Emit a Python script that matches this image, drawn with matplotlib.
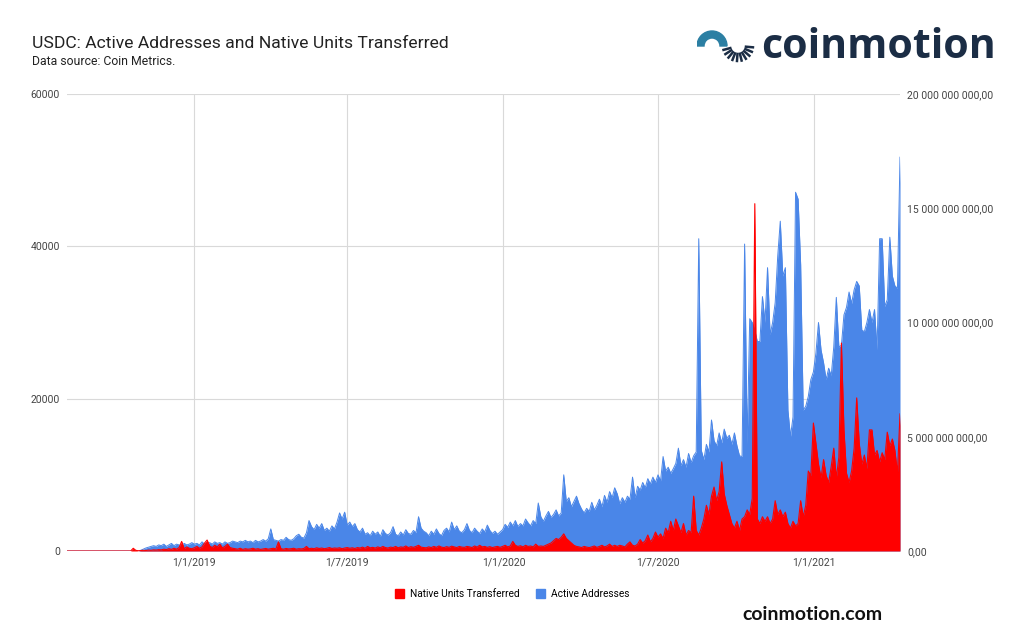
import matplotlib
matplotlib.use('Agg')
import matplotlib.pyplot as plt
from matplotlib.patches import Patch, Wedge
from matplotlib.ticker import FuncFormatter
import numpy as np
import pandas as pd

plt.rcParams['font.family'] = ['Roboto', 'DejaVu Sans']

# USDC daily data sampled every 3 days, starting 2018-08-05 (Coin Metrics)
start_date = '2018-08-05'

active_addresses = [
    0, 0, 0, 0, 0, 0, 0, 0, 0, 0,
    0, 0, 0, 0, 0, 0, 0, 0, 0, 0,
    0, 0, 0, 0, 0, 0, 0, 0, 0,
    100, 250, 400, 500, 600, 700,
    600, 800, 700, 900, 600, 800, 1000, 700, 900, 800, 700, 1000, 800, 900, 1100,
    900, 1000, 800, 1200, 900, 1000, 1100, 900, 1200, 1000, 1100, 900, 1200, 1000, 1100, 1300,
    1200, 1100, 1300, 1200, 1400, 1200, 1300, 1100, 1400, 1200, 1300, 1500, 1300, 1600, 2900,
    1500, 1400, 1300, 1500, 1400, 1800, 1500, 1400, 1600, 2000, 2200, 1800, 1700, 2400, 4000,
    3200, 2800, 3500, 3000, 3600, 2700, 3000, 2600, 3300, 2900, 3800, 5000, 4200, 5100, 3400,
    3800, 3200, 3600, 2800, 2500, 3000, 2200, 2400, 2000, 2600, 2200, 2500, 1900, 2800, 2300,
    2100, 2400, 3200, 2200, 2000, 2500, 2100, 2800, 2300, 2200, 2700, 2400, 4500, 3000, 2600,
    2400, 2000, 2600, 2200, 2900, 2300, 2000, 2700, 3000, 2500, 3800, 2800, 3300, 2600, 2400,
    2800, 3600, 2700, 2400, 3000, 2600, 2300, 2900, 2500, 3400, 2700, 2300, 2600, 2200, 2500,
    2800, 3500, 3100, 3800, 3300, 4000, 3200, 3600, 3300, 4200, 3700, 3300, 4000, 3600, 6300,
    4500, 3900, 4600, 5200, 4400, 4800, 5400, 4600, 5000, 10000, 6500, 7000, 5800, 6500, 7200,
    6200, 5500, 5000, 5600, 5200, 6400, 5400, 6000, 6800, 5800, 7300, 6400, 7800, 7000, 8300,
    7500, 6200, 7000, 6400, 7200, 6800, 9700, 7000, 8500, 8000, 9000, 8300, 9500, 8800, 9700,
    9000, 10000, 9200, 12400, 10500, 11000, 10200, 10800, 11500, 13500, 11200, 12000, 11000, 12800, 11600,
    12500, 13000, 41000, 13200, 12000, 14000, 13000, 17200, 14500, 13800, 15500, 14200, 16000, 14800, 15200,
    14000, 15500, 13800, 12500, 12400, 40300, 14000, 30500, 30000, 29000, 27500, 27500, 33400, 30000, 37200,
    28400, 30000, 32600, 38700, 43300, 36100, 37200, 18500, 15000, 17600, 47100, 46200, 37600, 18500, 19000,
    20300, 22500, 23500, 26000, 30000, 26400, 24700, 22500, 24000, 23000, 26800, 33300, 26800, 27000, 31000,
    32000, 34000, 32500, 34300, 35400, 34800, 29000, 28800, 30000, 31700, 30000, 31700, 26400, 41000, 41000,
    32100, 33000, 41200, 36100, 34800, 34500, 51700,
]

# native units transferred, in billions
units_bn = [
    0, 0, 0, 0, 0, 0, 0, 0, 0, 0,
    0, 0, 0, 0, 0, 0, 0, 0, 0, 0,
    0, 0, 0, 0, 0, 0, 0.12, 0.03, 0.01,
    0.02, 0.03, 0.02, 0.04, 0.03, 0.05,
    0.04, 0.06, 0.05, 0.08, 0.06, 0.1, 0.07, 0.12, 0.08, 0.15, 0.42, 0.1, 0.18, 0.12, 0.1,
    0.14, 0.2, 0.12, 0.18, 0.35, 0.48, 0.22, 0.15, 0.25, 0.18, 0.3, 0.14, 0.2, 0.3, 0.15, 0.12,
    0.1, 0.08, 0.12, 0.07, 0.1, 0.08, 0.09, 0.12, 0.08, 0.1, 0.07, 0.09, 0.11, 0.08, 0.1,
    0.12, 0.09, 0.4, 0.1, 0.08, 0.11, 0.09, 0.1, 0.12, 0.08, 0.1, 0.09, 0.11, 0.2, 0.1,
    0.12, 0.1, 0.14, 0.11, 0.13, 0.1, 0.12, 0.15, 0.11, 0.13, 0.12, 0.14, 0.1, 0.13, 0.15,
    0.12, 0.14, 0.11, 0.15, 0.13, 0.17, 0.12, 0.2, 0.14, 0.16, 0.13, 0.18, 0.14, 0.2, 0.15,
    0.13, 0.17, 0.15, 0.2, 0.14, 0.18, 0.16, 0.22, 0.15, 0.19, 0.16, 0.2, 0.25, 0.17, 0.15,
    0.14, 0.18, 0.15, 0.2, 0.16, 0.22, 0.17, 0.15, 0.19, 0.16, 0.21, 0.18, 0.15, 0.2, 0.17,
    0.16, 0.2, 0.18, 0.15, 0.22, 0.17, 0.25, 0.18, 0.2, 0.16, 0.19, 0.15, 0.18, 0.2, 0.16,
    0.2, 0.25, 0.18, 0.22, 0.42, 0.25, 0.2, 0.23, 0.18, 0.25, 0.2, 0.22, 0.18, 0.3, 0.2,
    0.22, 0.2, 0.25, 0.3, 0.35, 0.45, 0.55, 0.5, 0.6, 0.75, 0.55, 0.45, 0.35, 0.25, 0.2,
    0.18, 0.15, 0.2, 0.17, 0.15, 0.18, 0.22, 0.16, 0.2, 0.25, 0.18, 0.22, 0.3, 0.2, 0.25,
    0.2, 0.25, 0.22, 0.18, 0.3, 0.4, 0.25, 0.22, 0.3, 0.5, 0.35, 0.45, 0.7, 0.4, 0.55,
    0.83, 0.6, 0.75, 0.55, 1.0, 0.8, 1.3, 0.9, 1.4, 1.1, 0.8, 1.2, 0.7, 0.9, 0.8,
    2.4, 0.9, 0.7, 1.0, 1.4, 2.0, 1.6, 2.4, 2.8, 2.2, 2.6, 3.9, 2.5, 2.0, 1.6,
    1.2, 1.0, 1.3, 0.9, 1.4, 1.5, 1.8, 1.6, 2.3, 15.2, 1.4, 1.2, 1.5, 1.3, 1.5,
    1.2, 1.4, 2.2, 1.6, 1.8, 1.5, 1.7, 1.2, 1.0, 1.3, 1.1, 1.2, 2.2, 1.5, 2.0,
    3.5, 3.3, 5.6, 4.7, 3.8, 3.2, 4.0, 3.3, 3.0, 3.7, 4.5, 3.2, 4.1, 9.1, 5.3,
    3.4, 3.0, 3.5, 4.5, 6.7, 4.7, 3.8, 4.2, 3.6, 5.3, 5.3, 4.2, 4.4, 3.9, 4.3,
    4.0, 5.2, 4.6, 4.9, 4.4, 3.4, 6.0,
]

tick_dates = ['2019-01-01', '2019-07-01', '2020-01-01', '2020-07-01', '2021-01-01']
tick_labels = ['1/1/2019', '1/7/2019', '1/1/2020', '1/7/2020', '1/1/2021']

dates = pd.date_range(start_date, periods=len(active_addresses), freq='3D')
units = np.array(units_bn) * 1e9

blue = '#4a86e8'
red = '#ff0000'
grey_txt = '#444444'

fig = plt.figure(figsize=(10.24, 6.31), dpi=100)
ax = fig.add_axes([67 / 1024, 80 / 631, 833 / 1024, 457 / 631])

ax.fill_between(dates, active_addresses, 0, color=blue, lw=0)
ax.plot(dates, active_addresses, color=blue, lw=0.7)
ax.set_ylim(0, 60000)
ax.set_yticks([0, 20000, 40000, 60000])
ax.set_xlim(dates[0], dates[-1])
ax.set_xticks(pd.to_datetime(tick_dates))
ax.set_xticklabels(tick_labels)
ax.grid(True, color='#d9d9d9', lw=0.8)
ax.set_axisbelow(True)
ax.tick_params(length=0, labelsize=7.5, colors=grey_txt, pad=5)
for s in ax.spines.values():
    s.set_visible(False)

ax2 = ax.twinx()
ax2.fill_between(dates, units, 0, color=red, lw=0)
ax2.plot(dates, units, color=red, lw=0.8)
ax2.set_ylim(0, 20e9)
ax2.set_yticks([0, 5e9, 10e9, 15e9, 20e9])
ax2.yaxis.set_major_formatter(FuncFormatter(
    lambda v, p: '{:,.2f}'.format(v).replace(',', ' ').replace('.', ',')))
ax2.tick_params(length=0, labelsize=7.5, colors=grey_txt, pad=5)
for s in ax2.spines.values():
    s.set_visible(False)

# titles
fig.text(32 / 1024, 1 - 48 / 631, 'USDC: Active Addresses and Native Units Transferred',
         fontsize=12.6, color='#222222', va='baseline')
fig.text(32 / 1024, 1 - 65 / 631, 'Data source: Coin Metrics.',
         fontsize=8.8, color='#222222', va='baseline')

# legend
handles = [Patch(color=red, label='Native Units Transferred'),
           Patch(color=blue, label='Active Addresses')]
fig.legend(handles=handles, loc='center', bbox_to_anchor=(0.5, 1 - 594 / 631), ncol=2,
           frameon=False, fontsize=7.3, handlelength=0.9, handleheight=0.9,
           columnspacing=1.6, handletextpad=0.6)

# coinmotion logo
lax = fig.add_axes([697 / 1024, 1 - 66 / 631, 58 / 1024, 38 / 631])
lax.set_xlim(0, 58)
lax.set_ylim(0, 38)
lax.axis('off')
lax.add_patch(Wedge((15, 20), 15, 0, 180, width=7, color='#2b7fa3'))
for ang in np.linspace(195, 355, 10):
    a = np.deg2rad(ang)
    lax.plot([41 + 8 * np.cos(a), 41 + 15 * np.cos(a)],
             [20 + 8 * np.sin(a), 20 + 15 * np.sin(a)], color='#1b2d45', lw=1.8)
fig.text(761 / 1024, 1 - 58 / 631, 'coinmotion', fontsize=29.5, fontweight='bold',
         family='Open Sans', color='#1b2d45', va='baseline')
fig.text(742 / 1024, 1 - 620 / 631, 'coinmotion.com', fontsize=14, fontweight='bold',
         family='Lato', color='#111111', va='baseline')

fig.savefig('out.png', dpi=100)
